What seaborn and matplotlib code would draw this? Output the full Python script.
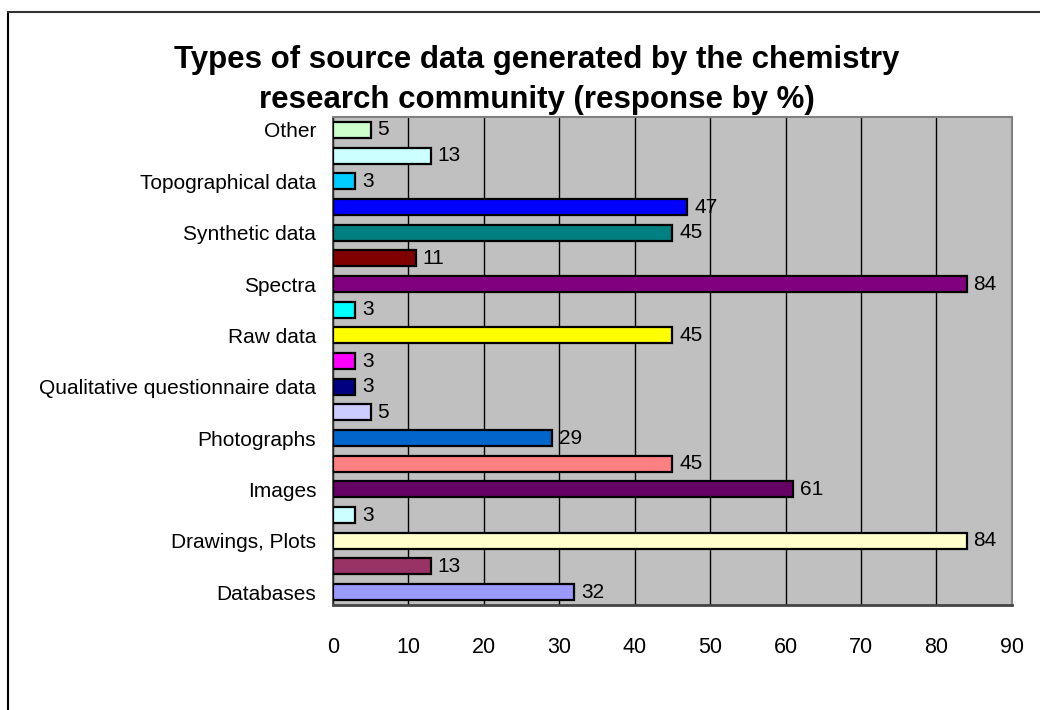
import matplotlib
matplotlib.use("Agg")
import matplotlib.pyplot as plt
import seaborn as sns
import pandas as pd
from matplotlib.lines import Line2D

# Response categories, listed from top to bottom of the chart
slots = [
    "Other", "Other (2)", "Topographical data", "Topographical data (2)",
    "Synthetic data", "Synthetic data (2)", "Spectra", "Spectra (2)",
    "Raw data", "Raw data (2)", "Qualitative questionnaire data",
    "Qualitative questionnaire data (2)", "Photographs", "Photographs (2)",
    "Images", "Images (2)", "Drawings, Plots", "Drawings, Plots (2)", "Databases",
]
tick_labels = [
    "Other", "", "Topographical data", "", "Synthetic data", "", "Spectra", "",
    "Raw data", "", "Qualitative questionnaire data", "", "Photographs", "",
    "Images", "", "Drawings, Plots", "", "Databases",
]
percent = [5, 13, 3, 47, 45, 11, 84, 3, 45, 3, 3, 5, 29, 45, 61, 3, 84, 13, 32]
bar_colors = [
    "#CCFFCC", "#CCFFFF", "#00CCFF", "#0000FF", "#008080", "#800000", "#800080",
    "#00FFFF", "#FFFF00", "#FF00FF", "#000080", "#CCCCFF", "#0066CC", "#FF8080",
    "#660066", "#CCFFFF", "#FFFFCC", "#993366", "#9999FF",
]
x_ticks = [0, 10, 20, 30, 40, 50, 60, 70, 80, 90]

df = pd.DataFrame({"slot": slots, "percent": percent})

sns.set_style("white")
plt.rcParams["font.family"] = ["Liberation Sans", "DejaVu Sans"]
plt.rcParams["text.color"] = "black"
plt.rcParams["xtick.color"] = "black"
plt.rcParams["ytick.color"] = "black"

fig = plt.figure(figsize=(10.4, 7.1), dpi=100)
ax = fig.add_axes([0.320, 0.148, 0.653, 0.687])
ax.set_facecolor("#C0C0C0")

sns.barplot(
    data=df, x="percent", y="slot", order=slots, hue="slot", hue_order=slots,
    palette=dict(zip(slots, bar_colors)), legend=False, orient="h",
    width=0.62, edgecolor="black", linewidth=1.6, saturation=1, ax=ax, zorder=3,
)

for container in ax.containers:
    ax.bar_label(container, fmt="%g", padding=5, fontsize=15, color="black")

ax.set_xlim(0, 90)
ax.set_ylim(len(slots) - 0.5, -0.5)
ax.set_xticks(x_ticks)
ax.set_xticklabels([str(t) for t in x_ticks], fontsize=15.5)
ax.set_yticks(range(len(slots)))
ax.set_yticklabels(tick_labels, fontsize=15)
ax.set_yticks([i - 0.5 for i in range(len(slots) + 1)], minor=True)
ax.tick_params(axis="y", which="major", length=0, pad=12)
ax.tick_params(axis="y", which="minor", length=5, width=1, color="#333333", direction="out")
ax.tick_params(axis="x", which="major", length=6, width=1, color="#333333",
               direction="out", pad=17)
ax.set_xlabel("")
ax.set_ylabel("")

ax.xaxis.grid(True, color="black", linewidth=1, zorder=1)
ax.set_axisbelow(True)

for side in ("top", "right"):
    ax.spines[side].set_color("#808080")
    ax.spines[side].set_linewidth(1.5)
ax.spines["left"].set_color("#333333")
ax.spines["left"].set_linewidth(1.2)
ax.spines["bottom"].set_color("#444444")
ax.spines["bottom"].set_linewidth(2)
for s in ax.spines.values():
    s.set_visible(True)

fig.text(0.516, 0.915, "Types of source data generated by the chemistry",
         ha="center", va="center", fontsize=22.5, fontweight="bold")
fig.text(0.516, 0.859, "research community (response by %)",
         ha="center", va="center", fontsize=22.5, fontweight="bold")

# Chart frame: top and left edges
fig.add_artist(Line2D([7.5 / 1040, 7.5 / 1040], [0, 1 - 12 / 710],
                      transform=fig.transFigure, color="black", linewidth=1.5))
fig.add_artist(Line2D([7.5 / 1040, 1], [1 - 12 / 710, 1 - 12 / 710],
                      transform=fig.transFigure, color="#333333", linewidth=1.5))

fig.savefig("out.png", dpi=100)
